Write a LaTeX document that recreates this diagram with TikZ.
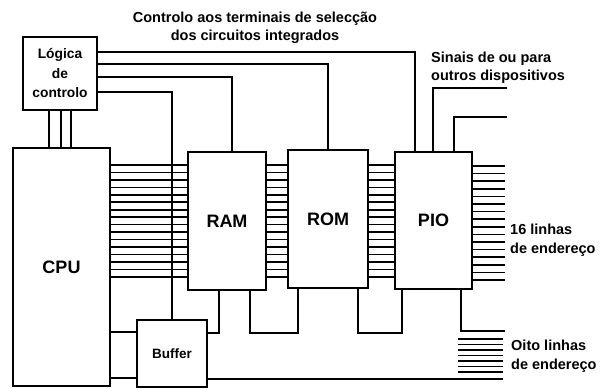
\documentclass[tikz,border=0pt]{standalone}
\usepackage{fontspec}
\setmainfont{Liberation Sans}
\usepackage{tikz}

\begin{document}
\begin{tikzpicture}[x=1pt,y=-1pt,
  box/.style={draw,line width=2.6pt,inner sep=0pt,font=\fontsize{18}{20}\selectfont\bfseries},
  wire/.style={line width=2pt},
  bus/.style={line width=1.6pt},
  lbl/.style={font=\fontsize{14.5}{18.5}\selectfont\bfseries,align=left,inner sep=0pt}]
\useasboundingbox (0,0) rectangle (603,388);
% blocos
\node[box,minimum width=74pt,minimum height=73pt,align=center,font=\fontsize{13.8}{19.5}\selectfont\bfseries] (logic) at (60,73.5) {L\'ogica\\de\\controlo};
\node[box,minimum width=97pt,minimum height=238pt] (cpu) at (61.5,267) {CPU};
\node[box,minimum width=78pt,minimum height=138pt] (ram) at (227,221) {RAM};
\node[box,minimum width=80pt,minimum height=138pt] (rom) at (328,219) {ROM};
\node[box,minimum width=77pt,minimum height=137pt] (pio) at (433.5,220.5) {PIO};
\node[box,minimum width=70pt,minimum height=67pt,font=\fontsize{13.5}{16}\selectfont\bfseries] (buffer) at (172,353.5) {Buffer};
% textos
\node[lbl,align=center] (title) at (255,28) {Controlo aos terminais de selec\c{c}\~ao\\dos circuitos integrados};
\node[lbl,anchor=west] (sinais) at (431,68) {Sinais de ou para\\outros dispositivos};
\node[lbl,anchor=west] (dezasseis) at (510,240) {16 linhas\\de endere\c{c}o};
\node[lbl,anchor=west] (oito) at (511,356) {Oito linhas\\de endere\c{c}o};
% controlo
\draw[wire] (logic.east |- 0,52) -- (415,52) -- (pio.north -| 415,0);
\draw[wire] (logic.east |- 0,64) -- (328,64) -- (rom.north -| 328,0);
\draw[wire] (logic.east |- 0,77) -- (232,77) -- (ram.north -| 232,0);
\draw[wire] (logic.east |- 0,92) -- (172,92) -- (buffer.north -| 172,0);
\foreach \x in {49,61,71}
  \draw[wire] (logic.south -| \x,0) -- (cpu.north -| \x,0);
% barramento de 16 linhas
\foreach \i in {0,...,15} {
  \pgfmathsetmacro\yy{165+7.45*\i}
  \draw[bus] (cpu.east |- 0,\yy) -- (ram.west |- 0,\yy);
  \draw[bus] (ram.east |- 0,\yy) -- (rom.west |- 0,\yy);
  \draw[bus] (rom.east |- 0,\yy) -- (pio.west |- 0,\yy);
  \pgfmathsetmacro\yr{166+7.6*\i}
  \draw[bus] (pio.east |- 0,\yr) -- (505,\yr);
}
% sinais do PIO
\draw[wire] (pio.north -| 433,0) -- (433,88) -- (507,88);
\draw[wire] (pio.north -| 454,0) -- (454,117) -- (507,117);
% ligacoes inferiores
\draw[wire] (ram.south -| 219,0) -- (219,333) -- (buffer.east |- 0,333);
\draw[wire] (ram.south -| 250,0) -- (250,333) -- (298,333) -- (rom.south -| 298,0);
\draw[wire] (rom.south -| 358,0) -- (358,333) -- (402,333) -- (pio.south -| 402,0);
\draw[wire] (pio.south -| 461,0) -- (461,331) -- (505,331);
\foreach \i in {0,...,6}
  \draw[bus] (458,{339+5.5*\i}) -- (503,{339+5.5*\i});
\draw[wire] (cpu.east |- 0,332) -- (buffer.west |- 0,332);
\draw[wire] (cpu.east |- 0,378) -- (buffer.west |- 0,378);
\draw[wire] (buffer.east |- 0,379) -- (503,379);
\end{tikzpicture}
\end{document}
